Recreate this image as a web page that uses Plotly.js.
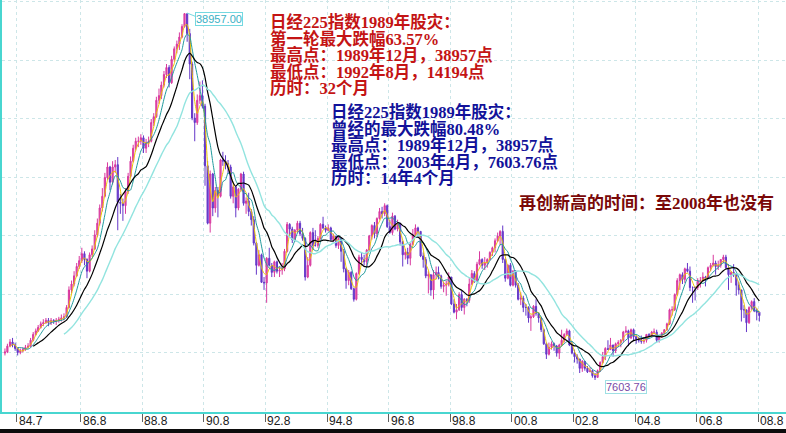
<!DOCTYPE html>
<html>
<head>
<meta charset="utf-8">
<script src="https://cdn.plot.ly/plotly-3.0.1.min.js"></script>
<style>
  html, body { margin: 0; padding: 0; background: #0c0c0c; width: 786px; height: 433px; overflow: hidden; }
  #chart { width: 786px; height: 429px; background: #ffffff; }
</style>
</head>
<body>
<div id="chart"></div>
<script>
// Monthly Nikkei 225 bars, Feb 1984 .. Aug 2008
const firstYear = 1984, firstMonth = 2;

const monthOpen = [
  9900,10000,10500,10850,10600,10300,9950,10100,10200,10400,10500,
  11000,11500,11800,12100,12400,12500,12700,12500,12700,12600,12700,12800,
  12900,13000,13800,15300,15800,16500,17300,17800,18400,17900,16900,18300,
  18800,20000,21000,22300,23300,24900,25800,24500,25800,26000,22800,22700,
  22500,23700,25000,26300,27400,28000,28000,28300,27400,27900,28000,29600,
  30100,31500,31900,32800,33700,34300,33000,35000,35900,36300,36900,37800,
  38900,37200,34600,29980,29600,31500,31900,31000,25900,21000,25200,22300,
  23800,23300,26400,26300,26100,25800,23300,24100,22300,23900,25200,22700,
  22900,22000,21300,19300,17400,18300,15950,15900,18000,17400,16800,17700,
  16900,17000,17100,18600,20900,20500,19600,20400,21000,20100,19700,16400,
  17400,20200,19100,19100,19700,20900,20600,20400,20600,19600,19900,19100,
  19700,18600,17100,16100,16800,15400,14500,16700,18100,17900,17700,18700,
  19900,20800,20100,21400,22000,21800,22500,20700,20200,21600,20500,21000,
  19400,18300,18500,18000,19200,20000,20600,20300,18200,17900,16500,16600,
  15300,16600,16800,16500,15600,15700,15800,16400,14100,13400,13600,14900,
  13800,14500,14400,15800,16700,16100,17500,17900,17400,17600,17900,18500,
  18900,19500,19900,20300,17900,16300,17400,15700,16900,15700,14500,14600,
  13800,13800,12900,13000,13900,13300,12900,11900,10700,9800,10400,10700,
  10500,9900,10600,11000,11500,11800,10600,9900,9600,9400,8600,9200,
  8600,8300,8400,7970,7830,8400,9100,9600,10300,10200,10600,10100,
  10700,10800,11000,11700,11800,11200,11900,11300,11100,11000,10900,11000,
  11500,11400,11700,11700,11000,11300,11600,11900,12400,13600,13600,14900,
  16100,16600,16200,17100,16900,15500,15500,15500,16100,16100,16400,16300,
  17200,17400,17600,17300,17400,17900,18100,17200,16600,16800,16700,15700,
  15300,13600,13600,12500,13800,14300,13500,13400
];

const monthHigh = [
  10300,10700,11100,11200,10800,10400,10300,10400,10600,10750,11200,
  11700,12000,12300,12600,12800,12900,12900,12900,12800,12900,13000,13200,
  13300,14000,15600,16100,16900,17600,18200,18900,18600,18000,18500,19100,
  20400,21400,22600,24000,25300,26200,25900,26300,26400,26650,23500,23100,
  24000,25300,26700,27700,28300,28400,28600,28500,28200,28400,29900,30400,
  31800,32500,33100,34000,34600,34500,35300,36100,36600,37300,38000,38957,
  38900,37600,34800,30400,32000,33100,33200,31200,26300,25500,25300,24100,
  24100,26500,27100,26800,26400,26000,24300,24200,24000,25300,25400,23200,
  23600,22200,21600,19400,18700,18400,16400,18100,18900,17600,17800,17800,
  17300,17600,18800,21100,21000,20700,20500,21200,21200,20600,19800,18100,
  20300,20600,20400,19900,21000,21550,20800,20900,20700,20100,19900,19900,
  19700,18800,17200,17000,16900,15500,16800,18300,18500,18300,18800,20000,
  20900,21100,21500,22300,22400,22700,22600,21300,21900,21700,21300,21000,
  19500,18800,18900,19300,20500,20900,20700,20300,18500,18100,16900,16600,
  17000,17300,17300,16600,16000,16100,16800,16400,14500,14100,15100,15200,
  14600,14600,16300,17000,16900,17700,18600,18000,18100,18000,18600,19000,
  19700,20200,20400,20800,18000,17500,17600,17000,17000,15900,15100,14800,
  14100,13900,13200,14000,14500,13400,13000,12000,10800,10800,10900,10800,
  10600,10700,11900,11600,12000,11900,10900,10200,9800,9400,9300,9200,
  8800,8700,8500,8200,8500,9200,10000,10400,11000,11200,10600,10800,
  11000,11100,11800,12200,11900,12000,12000,11400,11300,11400,11200,11500,
  11600,11800,12000,11900,11400,11700,11950,12500,13700,13900,15000,16300,
  16700,16800,17200,17600,17300,15600,15600,16300,16400,16800,16500,17300,
  17600,18300,17800,17800,17900,18300,18300,17500,16900,17500,16700,16000,
  15300,14000,13600,13900,14400,14600,13700,13400
];

const monthLow = [
  9700,9900,10400,10400,10100,9700,9800,9950,10100,10300,10400,
  10900,11400,11700,12000,12200,12400,12200,12300,12400,12300,12500,12600,
  12700,12900,13700,15000,15600,16400,17100,17600,17400,16300,16800,18100,
  18700,19800,20800,22000,23200,24700,23800,24300,25300,20400,21800,21200,
  21800,23500,24900,26200,27200,27500,27700,27000,27000,27500,27900,29300,
  30000,31200,31600,32600,33400,32600,32900,34800,35500,35800,36800,37700,
  36500,33300,29800,28000,29400,31200,30800,24200,20900,20200,21600,21900,
  21500,23200,25900,25600,25200,23100,22700,21500,22100,23700,22500,21800,
  21600,20800,19100,16600,17300,15900,15300,14200,17300,16400,16400,16700,
  16400,16600,16900,18500,19900,19300,19400,20200,19900,19500,16100,16300,
  17300,18700,19000,18900,19600,20500,20200,20300,19500,19400,18900,18800,
  17700,16800,15400,15700,15300,14300,14400,16600,17400,17400,17300,18600,
  19600,19700,19800,21300,21400,21600,20600,20100,20000,20400,20300,19100,
  17300,17900,17500,17400,19100,19900,19800,18100,17200,16300,15000,14800,
  14500,16200,16200,15400,15100,14800,15600,14000,13300,12800,13500,13500,
  13200,13900,14200,15700,15900,16000,17400,17100,17000,17200,17800,18200,
  18500,19400,19100,17600,16000,16200,15600,15600,15500,14400,14000,13400,
  13100,12500,11800,12900,13100,12500,11700,10600,9400,9700,10200,10100,
  9600,9400,10500,10800,11400,10500,9800,9100,9000,8200,8300,8400,
  8200,8300,7800,7604,7800,8300,9000,9300,10200,10200,9600,9900,
  10400,10400,10800,11600,10500,11100,11000,10700,10800,10700,10700,10800,
  11200,11300,11500,10800,10800,11200,11500,11800,12300,13100,13500,14800,
  15300,15800,15900,16800,15200,14200,14400,15300,15500,16000,15600,16200,
  16900,17300,16600,17000,17200,17600,17100,15300,15900,16400,14800,14900,
  12600,12900,11700,12400,13600,13400,12700,12600
];

const monthClose = [
  10000,10500,10850,10600,10300,9950,10100,10200,10400,10500,11000,
  11500,11800,12100,12400,12500,12700,12500,12700,12600,12700,12800,12900,
  13000,13800,15300,15800,16500,17300,17800,18400,17900,16900,18300,18800,
  20000,21000,22300,23300,24900,25800,24500,25800,26000,22800,22700,22500,
  23700,25000,26300,27400,28000,28000,28300,27400,27900,28000,29600,30100,
  31500,31900,32800,33700,34300,33000,35000,35900,36300,36900,37800,38900,
  37200,34600,29980,29600,31500,31900,31000,25900,21000,25200,22300,23800,
  23300,26400,26300,26100,25800,23300,24100,22300,23900,25200,22700,22900,
  22000,21300,19300,17400,18300,15950,15900,18000,17400,16800,17700,16900,
  17000,17100,18600,20900,20500,19600,20400,21000,20100,19700,16400,17400,
  20200,19100,19100,19700,20900,20600,20400,20600,19600,19900,19100,19700,
  18600,17100,16100,16800,15400,14500,16700,18100,17900,17700,18700,19900,
  20800,20100,21400,22000,21800,22500,20700,20200,21600,20500,21000,19400,
  18300,18500,18000,19200,20000,20600,20300,18200,17900,16500,16600,15300,
  16600,16800,16500,15600,15700,15800,16400,14100,13400,13600,14900,13800,
  14500,14400,15800,16700,16100,17500,17900,17400,17600,17900,18500,18900,
  19500,19900,20300,17900,16300,17400,15700,16900,15700,14500,14600,13800,
  13800,12900,13000,13900,13300,12900,11900,10700,9800,10400,10700,10500,
  9900,10600,11000,11500,11800,10600,9900,9600,9400,8600,9200,8600,
  8300,8400,7970,7830,8400,9100,9600,10300,10200,10600,10100,10700,
  10800,11000,11700,11800,11200,11900,11300,11100,11000,10900,11000,11500,
  11400,11700,11700,11000,11300,11600,11900,12400,13600,13600,14900,16100,
  16600,16200,17100,16900,15500,15500,15500,16100,16100,16400,16300,17200,
  17400,17600,17300,17400,17900,18100,17200,16600,16800,16700,15700,15300,
  13600,13600,12500,13800,14300,13500,13400,13100
];

const tickDates = ["1984-07-01","1986-08-01","1988-08-01","1990-08-01","1992-08-01","1994-08-01",
  "1996-08-01","1998-08-01","2000-08-01","2002-08-01","2004-08-01","2006-08-01","2008-08-01"];
const tickLabels = ["84.7","86.8","88.8","90.8","92.8","94.8","96.8","98.8","00.8","02.8","04.8","06.8","08.8"];

const maPeriods = [3, 6, 12, 24];
const maColors  = ["#ecc800", "#1f9a9c", "#000000", "#92e4df"];
const maWidths  = [1, 1, 1.2, 1.4];

const redLines = ["日经225指数1989年股灾：", "第一轮最大跌幅63.57%", "最高点：1989年12月，38957点", "最低点：1992年8月，14194点", "历时：32个月"];
const blueLines = ["日经225指数1989年股灾：", "曾经的最大跌幅80.48%", "最高点：1989年12月，38957点", "最低点：2003年4月，7603.76点", "历时：14年4个月"];
const noteLine = "再创新高的时间：至2008年也没有";
const highLabel = "38957.00";
const lowLabel = "7603.76";

// ----- build -----
const dates = monthClose.map((_, i) => {
  const t = (firstMonth - 1) + i;
  const y = firstYear + Math.floor(t / 12);
  const m = (t % 12) + 1;
  return y + "-" + String(m).padStart(2, "0") + "-15";
});

function movingAverage(arr, n) {
  return arr.map((_, i) => {
    if (i < n - 1) return null;
    let s = 0;
    for (let k = i - n + 1; k <= i; k++) s += arr[k];
    return s / n;
  });
}

const traces = [];
traces.push({
  type: "candlestick",
  x: dates, open: monthOpen, high: monthHigh, low: monthLow, close: monthClose,
  increasing: { line: { color: "#d8389e", width: 1 }, fillcolor: "#e452ae" },
  decreasing: { line: { color: "#6436c8", width: 1 }, fillcolor: "#6a3ccf" },
  whiskerwidth: 0,
  hoverinfo: "skip", showlegend: false
});
maPeriods.forEach((p, i) => {
  traces.push({
    type: "scatter", mode: "lines", x: dates, y: movingAverage(monthClose, p),
    line: { color: maColors[i], width: maWidths[i], shape: "spline", smoothing: 0.6 },
    hoverinfo: "skip", showlegend: false, connectgaps: false
  });
});

const W = 784, H = 412, L = 2;
const px = x => (x - L) / W;
const py = y => 1 - y / H;

const txtFont = "Liberation Serif, 'Noto Sans CJK SC', serif";
const txtSize = 16.5;
const annotations = [];
// multi-line text blocks (line spacing tightened after drawing)
annotations.push({
  xref: "paper", yref: "paper", x: px(269), y: py(11), xanchor: "left", yanchor: "top",
  text: redLines.map(t => "<b>" + t + "</b>").join("<br>"), align: "left",
  showarrow: false, borderpad: 0,
  font: { family: txtFont, size: txtSize, color: "#c41414" }
});
annotations.push({
  xref: "paper", yref: "paper", x: px(330), y: py(101), xanchor: "left", yanchor: "top",
  text: blueLines.map(t => "<b>" + t + "</b>").join("<br>"), align: "left",
  showarrow: false, borderpad: 0,
  font: { family: txtFont, size: txtSize, color: "#12129a" }
});
annotations.push({
  xref: "paper", yref: "paper", x: px(518), y: py(203), xanchor: "left", yanchor: "middle",
  text: "<b>" + noteLine + "</b>", showarrow: false, borderpad: 0,
  font: { family: txtFont, size: 17, color: "#7a0808" }
});
annotations.push({
  xref: "paper", yref: "paper", x: px(219), y: py(18.5), xanchor: "center", yanchor: "middle",
  text: highLabel, showarrow: false, bgcolor: "#ffffff",
  bordercolor: "#74d8e0", borderwidth: 1, borderpad: 0,
  font: { family: "Liberation Sans, Arial, sans-serif", size: 11, color: "#38b0c4" }
});
annotations.push({
  xref: "paper", yref: "paper", x: px(626), y: py(387), xanchor: "center", yanchor: "middle",
  text: lowLabel, showarrow: false, bgcolor: "#ffffff",
  bordercolor: "#9fe0e4", borderwidth: 1, borderpad: 0,
  font: { family: "Liberation Sans, Arial, sans-serif", size: 11, color: "#7a4aa6" }
});
// x tick labels, placed right of each tick mark
tickDates.forEach((d, i) => annotations.push({
  xref: "x", yref: "paper", x: d, y: py(421), xanchor: "left", yanchor: "middle",
  xshift: 0, text: tickLabels[i], showarrow: false,
  font: { family: "Liberation Sans, Arial, sans-serif", size: 12, color: "#202020" }
}));

const shapes = [
  { type: "line", xref: "paper", yref: "paper", x0: px(187), y0: py(13), x1: px(197), y1: py(17),
    line: { color: "#74d8e0", width: 1 } }
];

const layout = {
  width: 786, height: 429,
  margin: { l: L, r: 0, t: 0, b: 17, pad: 0 },
  paper_bgcolor: "#ffffff", plot_bgcolor: "#ffffff",
  showlegend: false,
  xaxis: {
    type: "date", range: ["1984-01-11", "2009-06-27"],
    rangeslider: { visible: false },
    tickvals: tickDates, ticktext: tickLabels, showticklabels: false,
    ticks: "outside", ticklen: 8, tickcolor: "#606060", tickwidth: 1,
    showgrid: true, gridcolor: "#cde6e8", griddash: "dot", gridwidth: 1,
    showline: true, linecolor: "#48d6d0", linewidth: 2,
    zeroline: false, fixedrange: true
  },
  yaxis: {
    range: [4870, 40068],
    tickvals: [9920, 14920, 19920, 24920, 29920, 34920, 39920],
    showticklabels: false, ticks: "",
    showgrid: true, gridcolor: "#cde6e8", griddash: "dot", gridwidth: 1,
    showline: true, linecolor: "#48d6d0", linewidth: 2,
    zeroline: false, fixedrange: true
  },
  annotations: annotations,
  shapes: shapes
};

const lineStepEm = 16.6 / txtSize;
Plotly.newPlot("chart", traces, layout, { staticPlot: true, displayModeBar: false }).then(gd => {
  gd.querySelectorAll(".annotation-text").forEach(t => {
    const lines = t.querySelectorAll("tspan.line");
    if (lines.length > 1) {
      lines.forEach((ln, k) => ln.setAttribute("dy", (k * lineStepEm).toFixed(4) + "em"));
    }
  });
});
</script>
</body>
</html>
